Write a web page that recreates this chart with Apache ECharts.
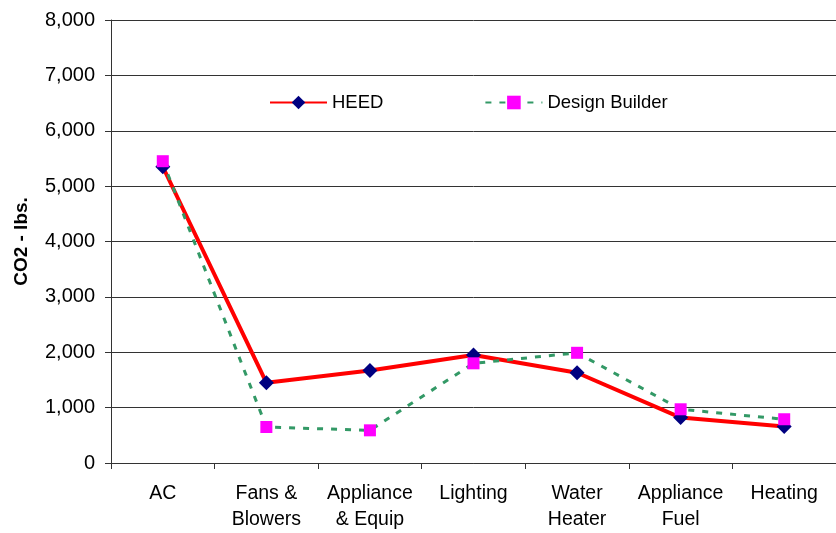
<!DOCTYPE html>
<html><head><meta charset="utf-8">
<script src="https://cdn.jsdelivr.net/npm/echarts@6/dist/echarts.min.js"></script>
<style>html,body{margin:0;padding:0;background:#fff}#c{width:836px;height:533px}</style>
</head><body><div id="c"></div>
<script>
const categories = ['AC', 'Fans &\nBlowers', 'Appliance\n& Equip', 'Lighting', 'Water\nHeater', 'Appliance\nFuel', 'Heating'];
const heed = [5350, 1450, 1670, 1950, 1630, 820, 660];
const designBuilder = [5450, 650, 590, 1800, 1990, 970, 790];
const yTicks = [0, 1000, 2000, 3000, 4000, 5000, 6000, 7000, 8000];

const chart = echarts.init(document.getElementById('c'), null, {renderer: 'canvas'});
const font = 'Liberation Sans, Arial, sans-serif';
chart.setOption({
  animation: false,
  grid: {left: 111, right: 0, top: 20, bottom: 68},
  legend: {
    top: 88, left: 264, itemGap: 101, itemWidth: 57, itemHeight: 17,
    textStyle: {fontFamily: font, fontSize: 18.5, color: '#000'},
    data: ['HEED', 'Design Builder']
  },
  xAxis: {
    type: 'category', data: categories, boundaryGap: true,
    axisLine: {lineStyle: {color: '#333', width: 1}},
    axisTick: {show: true, length: 6, lineStyle: {color: '#333'}},
    axisLabel: {fontFamily: font, fontSize: 19.5, color: '#000', margin: 18, lineHeight: 26, interval: 0}
  },
  yAxis: {
    type: 'value', min: yTicks[0], max: yTicks[yTicks.length - 1], interval: 1000,
    name: 'CO2 - lbs.', nameLocation: 'middle', nameGap: 80, nameRotate: 90,
    nameTextStyle: {fontFamily: font, fontSize: 19, fontWeight: 'bold', color: '#000'},
    axisLine: {show: true, lineStyle: {color: '#333', width: 1}},
    axisTick: {show: true, length: 6, lineStyle: {color: '#333'}},
    splitLine: {lineStyle: {color: '#333', width: 1}},
    axisLabel: {fontFamily: font, fontSize: 20, color: '#000', margin: 16,
      formatter: v => v.toLocaleString('en-US')}
  },
  series: [
    {
      name: 'HEED', type: 'line', data: heed, z: 3,
      symbol: 'diamond', symbolSize: 15,
      lineStyle: {color: '#ff0000', width: 4},
      itemStyle: {color: '#000080'}
    },
    {
      name: 'Design Builder', type: 'line', data: designBuilder, z: 4,
      symbol: 'rect', symbolSize: 12,
      lineStyle: {color: '#339966', width: 3, type: [6, 8]},
      itemStyle: {color: '#ff00ff'}
    }
  ]
});
</script></body></html>
